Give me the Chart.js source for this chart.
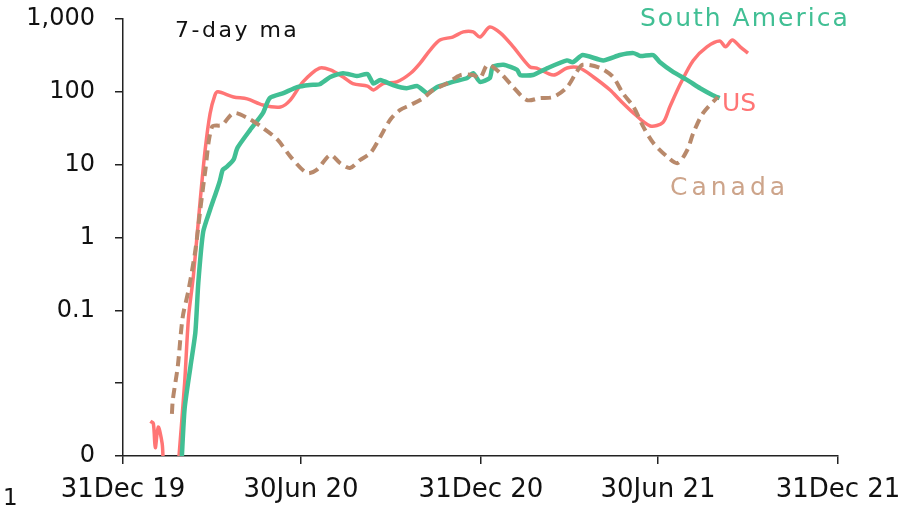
<!DOCTYPE html>
<html><head><meta charset="utf-8">
<script src="https://cdn.jsdelivr.net/npm/chart.js@4"></script>
<style>html,body{margin:0;padding:0;background:#fff}#wrap{width:901px;height:515px;position:relative}</style>
</head><body><div id="wrap"><canvas id="c" width="901" height="515"></canvas></div>
<script>
// x values are days since 31 Dec 2019
const xTickDays = [0, 182, 366, 547, 731];
const xTickLabels = ["31Dec 19", "30Jun 20", "31Dec 20", "30Jun 21", "31Dec 21"];
const yTickValues = [1000, 100, 10, 1, 0.1, 0.01, 0.001];
const yTickLabels = ["1,000", "100", "10", "1", "0.1", "", "0"];

const usDays = [28,31,33,36,40,41,null,57,63,67,72,79,84,89,94,97,113,127,143,161,171,184,201,212,225,235,250,256,266,280,294,304,314,324,337,348,358,365,375,386,399,416,423,440,454,467,481,498,508,522,539,552,559,570,583,597,610,616,623,631,639];
const usVals = [0.003,0.0028,0.0013,0.0025,0.0015,0.0009,null,0.0009,0.01,0.08,0.3,3.3,16,50,90,100,85,80,66,62,77,137,212,200,160,130,120,106,130,137,180,250,375,515,565,665,665,565,775,640,415,220,212,170,212,212,160,106,77,51,34,38,62,130,270,415,500,415,515,415,340];

const saDays = [60,63,69,74,77,82,89,96,99,102,106,113,117,130,143,150,164,178,191,201,212,225,239,250,256,263,276,290,301,311,321,337,352,358,365,375,378,389,403,406,419,434,454,460,470,491,508,522,529,542,549,562,577,590,603,610];
const saVals = [0.0009,0.0045,0.017,0.05,0.24,1.2,2.4,4.5,6,8.5,9.3,11.7,17,30,51,82,96,116,124,127,160,180,165,175,130,145,124,112,120,96,116,137,155,180,137,155,220,235,200,170,170,212,270,255,320,270,320,340,310,320,255,190,145,112,90,82];

const caDays = [50,51,56,61,67,74,79,84,91,101,113,127,143,158,171,188,198,212,222,232,242,253,263,273,283,294,307,317,331,345,358,365,373,386,399,413,426,440,454,464,470,488,501,511,522,532,542,556,567,577,583,593,608];
const caVals = [0.0038,0.006,0.017,0.08,0.19,0.67,2.4,8,33,35,51,44,32,22,13,7.7,8.5,13.5,10.5,9,11.5,14.5,24,41,56,66,82,106,130,170,170,155,235,180,116,77,82,85,116,190,235,212,160,96,62,33,20,13,10.5,16,27,51,85];

const seriesNames = ["South America", "US", "Canada"];

function pts(d, v){ return d.map((x,i)=> x===null ? {x:NaN,y:null} : {x:x, y:v[i]}); }

const FONT = "'DejaVu Sans', sans-serif";

const textPlugin = {
  id: 'texts',
  afterDraw(chart){
    const ctx = chart.ctx;
    ctx.save();
    ctx.textBaseline = 'alphabetic';
    ctx.textAlign = 'left';
    const items = [
      {t:'7-day ma', x:175, y:37, c:'#111', s:22, ls:'2.5px'},
      {t:seriesNames[0], x:640, y:26, c:'#41BF94', s:25, ls:'2px'},
      {t:seriesNames[1], x:722, y:111, c:'#FF7575', s:25, ls:'0px'},
      {t:seriesNames[2], x:670, y:195, c:'#CDA48A', s:25, ls:'4px'},
      {t:'1', x:3, y:505, c:'#111', s:23, ls:'0px'}
    ];
    for(const it of items){
      ctx.letterSpacing = it.ls;
      ctx.font = it.s + 'px ' + FONT;
      ctx.fillStyle = it.c;
      ctx.fillText(it.t, it.x, it.y);
    }
    ctx.restore();
  }
};

new Chart(document.getElementById('c'), {
  type: 'line',
  data: {
    datasets: [
      {label: seriesNames[2], data: pts(caDays, caVals), borderColor:'#B8896B', borderWidth:4, borderDash:[10,6], pointRadius:0, tension:0.3, spanGaps:false},
      {label: seriesNames[0], data: pts(saDays, saVals), borderColor:'#41BF94', borderWidth:4.5, pointRadius:0, tension:0.2, spanGaps:false},
      {label: seriesNames[1], data: pts(usDays, usVals), borderColor:'#FF7575', borderWidth:3.5, pointRadius:0, tension:0.3, spanGaps:false}
    ]
  },
  options: {
    responsive:false, animation:false,
    layout:{padding:{top:19, right:63, left:0, bottom:0}},
    plugins:{legend:{display:false}, tooltip:{enabled:false}},
    scales:{
      x:{
        type:'linear', min:0, max:731,
        afterBuildTicks(s){ s.ticks = xTickDays.map(v=>({value:v})); },
        afterFit(s){ s.height = 59; s.paddingLeft = 0; s.paddingRight = 0; },
        grid:{drawOnChartArea:false, drawTicks:true, tickLength:8, color:'#222', lineWidth:1.5},
        border:{display:true, color:'#222', width:1.5},
        ticks:{autoSkip:false, maxRotation:0, padding:11, color:'#111', font:{family:FONT, size:26},
          callback(v){ const i = xTickDays.indexOf(v); return i>=0 ? xTickLabels[i] : ''; }}
      },
      y:{
        type:'logarithmic', min:0.001, max:1000,
        afterBuildTicks(s){ s.ticks = yTickValues.map(v=>({value:v})); },
        afterFit(s){ s.width = 123; s.paddingTop = 0; s.paddingBottom = 0; },
        grid:{drawOnChartArea:false, drawTicks:true, tickLength:8, color:'#222', lineWidth:1.5},
        border:{display:true, color:'#222', width:1.5},
        ticks:{autoSkip:false, padding:20, color:'#111', font:{family:FONT, size:24},
          callback(v){ const i = yTickValues.findIndex(t=>Math.abs(t-v)/t<1e-6); return i>=0 ? yTickLabels[i] : ''; }}
      }
    }
  },
  plugins:[textPlugin]
});
</script></body></html>
